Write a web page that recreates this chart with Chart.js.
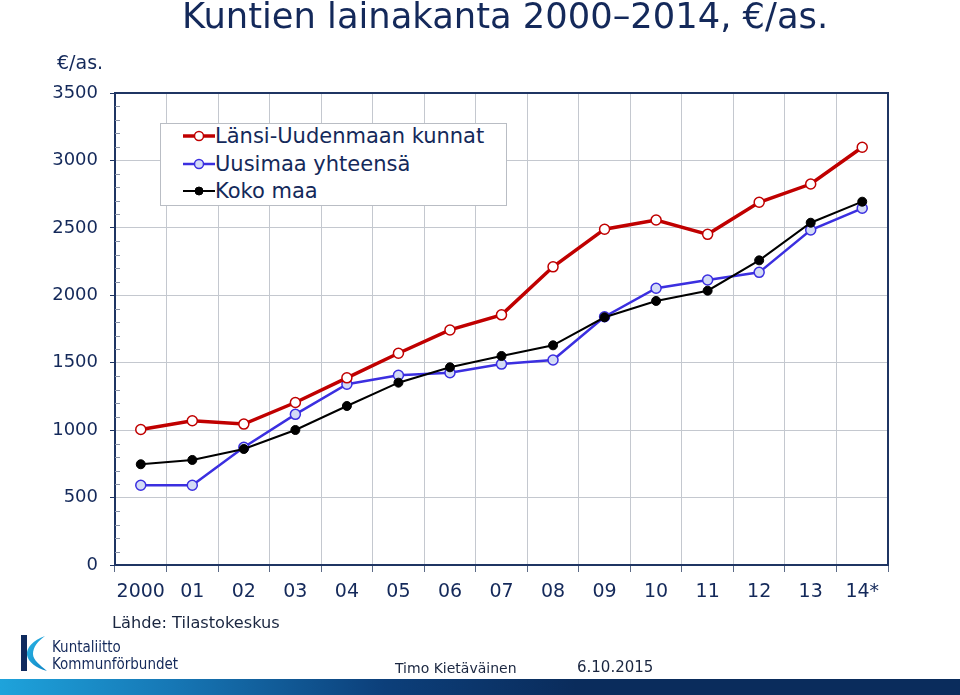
<!DOCTYPE html>
<html>
<head>
<meta charset="utf-8">
<script src="https://cdn.jsdelivr.net/npm/chart.js@4.4.1/dist/chart.umd.min.js"></script>
<style>
  html, body { margin: 0; padding: 0; background: #fff; }
  #wrap { position: relative; width: 960px; height: 695px; overflow: hidden; background: #fff; font-family: "DejaVu Sans", Verdana, sans-serif; color: #14295a; }
  #c { position: absolute; left: 0; top: 0; }
  .abs { position: absolute; white-space: nowrap; }
  #title { left: 182px; top: -6px; font-size: 35.3px; line-height: 44px; color: #14295a; }
  #unit { left: 57px; top: 51px; font-size: 19px; line-height: 22px; color: #14295a; }
  #legend { left: 160px; top: 123px; width: 345px; height: 81px; border: 1px solid #b9bdc4; background: #fff; }
  .row { position: absolute; left: 22px; height: 26px; display: flex; align-items: center; font-size: 21px; color: #14295a; }
  #source { left: 112px; top: 613px; font-size: 16.2px; line-height: 20px; font-family: "DejaVu Sans", sans-serif; color: #1a2640; }
  .logoTxt { left: 52px; font-size: 15px; line-height: 17px; font-family: "Liberation Sans Narrow", "DejaVu Sans Condensed", sans-serif; color: #14295a; }
  .foot { top: 658px; font-size: 14px; line-height: 20px; font-family: "DejaVu Sans", sans-serif; color: #1a2640; }
  #band { left: 0; top: 679px; width: 960px; height: 16px; background: linear-gradient(to right, #1ea3db 0%, #1677b5 18%, #0c3f7a 40%, #0a2c5c 60%, #0a2c5c 100%); }
</style>
</head>
<body>
<div id="wrap">
  <canvas id="c" width="960" height="695"></canvas>
  <div id="title" class="abs">Kuntien lainakanta 2000–2014, €/as.</div>
  <div id="unit" class="abs">€/as.</div>
  <div id="legend" class="abs"></div>
  <div id="source" class="abs">Lähde: Tilastokeskus</div>
  <svg class="abs" style="left:0;top:625px" width="60" height="52" viewBox="0 625 60 52">
    <defs>
      <linearGradient id="cy" x1="0" y1="0" x2="1" y2="1">
        <stop offset="0" stop-color="#2bb6e6"/>
        <stop offset="1" stop-color="#0f84c4"/>
      </linearGradient>
    </defs>
    <rect x="21" y="635" width="6" height="36" fill="#0f2a5e"/>
    <path d="M45,636 C33,640 26,648 27,655 C28,662 36,668 47,671 C40,665 33,660 33,654 C33,647 38,641 45,636 Z" fill="url(#cy)"/>
  </svg>
  <div class="abs logoTxt" style="top:639px">Kuntaliitto</div>
  <div class="abs logoTxt" style="top:656px">Kommunförbundet</div>
  <div class="abs foot" style="left:395px">Timo Kietäväinen</div>
  <div class="abs foot" style="left:577px; top:657px; font-size:15px">6.10.2015</div>
  <div id="band" class="abs"></div>
</div>
<script>
const categories = ["2000", "01", "02", "03", "04", "05", "06", "07", "08", "09", "10", "11", "12", "13", "14*"];
const seriesNames = ["Länsi-Uudenmaan kunnat", "Uusimaa yhteensä", "Koko maa"];
const lansiUusimaa = [1005, 1070, 1045, 1205, 1388, 1570, 1743, 1855, 2211, 2490, 2558, 2452, 2690, 2825, 3098];
const uusimaa = [591, 591, 873, 1117, 1340, 1407, 1426, 1490, 1520, 1841, 2052, 2113, 2170, 2484, 2645];
const kokoMaa = [747, 779, 860, 1001, 1179, 1352, 1466, 1550, 1629, 1837, 1958, 2034, 2259, 2538, 2694];
const yTicks = [0, 500, 1000, 1500, 2000, 2500, 3000, 3500];

const styles = [
  { line: "#c00000", fill: "#ffffff", lw: 3.5, r: 5, bw: 1.5 },
  { line: "#3b2fe0", fill: "#d3dbf6", lw: 2.5, r: 5, bw: 1.5 },
  { line: "#000000", fill: "#000000", lw: 2, r: 4.5, bw: 1 }
];
const seriesData = [lansiUusimaa, uusimaa, kokoMaa];
const orders = [0, 2, 1];

// HTML legend from series names
const legend = document.getElementById("legend");
seriesNames.forEach((name, i) => {
  const s = styles[i];
  const row = document.createElement("div");
  row.className = "row";
  row.style.top = (-1 + i * 27.5) + "px";
  row.innerHTML = '<svg width="32" height="20"><line x1="0" y1="10" x2="32" y2="10" stroke="' + s.line + '" stroke-width="' + s.lw + '"/>' +
    '<circle cx="16" cy="10" r="' + (s.r - 0.5) + '" fill="' + s.fill + '" stroke="' + s.line + '" stroke-width="' + s.bw + '"/></svg><span>' + name + '</span>';
  legend.appendChild(row);
});

const framePlugin = {
  id: "frame",
  beforeDatasetsDraw(chart) {
    const { ctx, chartArea: a, scales } = chart;
    const y = scales.y;
    ctx.save();
    ctx.strokeStyle = "#1f3563";
    ctx.lineWidth = 2;
    ctx.beginPath();
    ctx.moveTo(a.left, a.top); ctx.lineTo(a.right, a.top); ctx.lineTo(a.right, a.bottom);
    ctx.stroke();
    // minor ticks every 100 inside left axis
    ctx.strokeStyle = "#8a93a6";
    ctx.lineWidth = 1;
    for (let v = 100; v < 3500; v += 100) {
      if (v % 500 === 0) continue;
      const py = Math.round(y.getPixelForValue(v)) + 0.5;
      ctx.beginPath();
      ctx.moveTo(a.left, py); ctx.lineTo(a.left + 5, py);
      ctx.stroke();
    }
    ctx.restore();
  }
};

new Chart(document.getElementById("c"), {
  type: "line",
  data: {
    labels: categories,
    datasets: seriesData.map((d, i) => ({
      label: seriesNames[i],
      data: d,
      order: orders[i],
      borderColor: styles[i].line,
      backgroundColor: styles[i].fill,
      borderWidth: styles[i].lw,
      pointRadius: styles[i].r,
      pointBackgroundColor: styles[i].fill,
      pointBorderColor: styles[i].line,
      pointBorderWidth: styles[i].bw,
      tension: 0,
      fill: false
    }))
  },
  options: {
    responsive: false,
    animation: false,
    devicePixelRatio: 1,
    layout: { padding: { left: 0, right: 72, top: 93, bottom: 90 } },
    plugins: { legend: { display: false }, title: { display: false }, tooltip: { enabled: false } },
    scales: {
      x: {
        type: "category",
        offset: true,
        grid: { offset: true, color: "#c4c8cf", lineWidth: 1, tickLength: 7, tickColor: "#5b6a86" },
        border: { color: "#1f3563", width: 2 },
        ticks: { font: { family: "DejaVu Sans", size: 19 }, color: "#14295a", padding: 9, maxRotation: 0, autoSkip: false },
        afterFit(s) { s.height = 40; }
      },
      y: {
        min: 0, max: 3500,
        afterBuildTicks(s) { s.ticks = yTicks.map(v => ({ value: v })); },
        grid: { color: "#c4c8cf", lineWidth: 1, tickLength: 5, tickColor: "#1f3563" },
        border: { color: "#1f3563", width: 2 },
        ticks: { font: { family: "DejaVu Sans", size: 18 }, color: "#14295a", padding: 12, callback: v => String(v) },
        afterFit(s) { s.width = 115; }
      }
    }
  },
  plugins: [framePlugin]
});
</script>
</body>
</html>
